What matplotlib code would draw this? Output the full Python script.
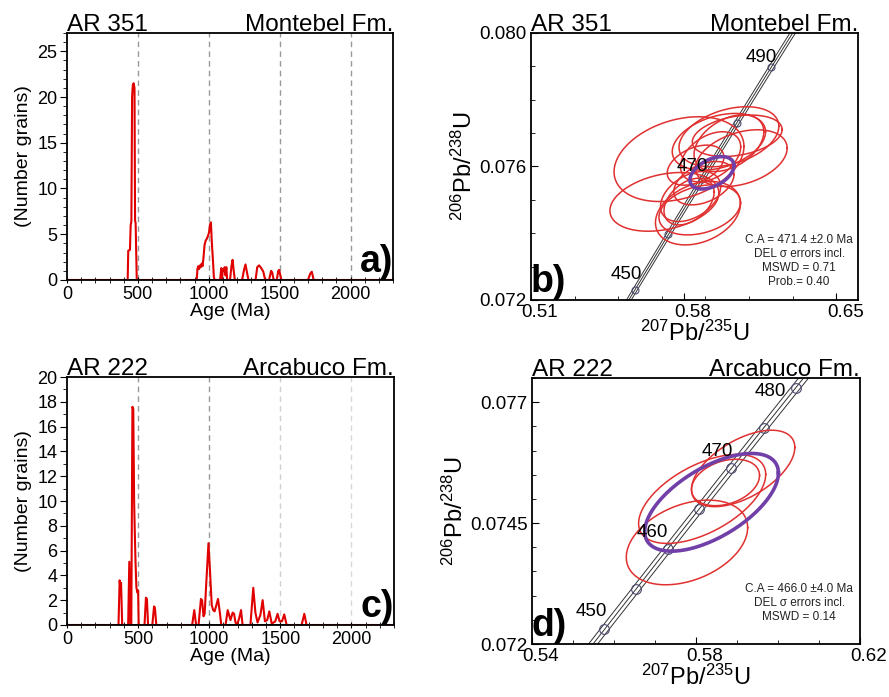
import numpy as np
import matplotlib
matplotlib.use("Agg")
import matplotlib.pyplot as plt
import matplotlib.transforms as mtransforms
from matplotlib.ticker import MultipleLocator, FixedLocator

plt.rcParams["font.family"] = ["Liberation Sans", "DejaVu Sans"]
plt.rcParams["mathtext.default"] = "regular"

# --- probability curves (age Ma, number of grains) ---
a_age = [0, 428, 432, 444, 449, 454, 459, 464, 470, 476, 480, 484, 492,
         915, 920, 926, 932, 938, 944, 950, 956, 962, 970, 978, 986, 994, 1002, 1008, 1015, 1022, 1030, 1036, 1042,
         1080, 1088, 1094, 1100, 1106, 1112, 1118, 1124, 1130,
         1150, 1160, 1168, 1176, 1184, 1235, 1250, 1259, 1270, 1280,
         1330, 1342, 1355, 1370, 1385, 1395, 1405, 1425, 1440, 1448, 1455, 1462,
         1480, 1490, 1497, 1505, 1512, 1700, 1716, 1727, 1740, 2300]
a_num = [0, 0, 3.2, 3.3, 6.0, 6.4, 20.0, 21.3, 21.5, 21.0, 6.5, 6.2, 0,
         0, 1.2, 1.5, 1.2, 1.6, 1.4, 1.8, 1.5, 2.3, 3.8, 4.3, 4.5, 4.8, 5.2, 6.0, 6.3, 4.0, 2.0, 0.3, 0,
         0, 1.3, 0.2, 1.2, 1.0, 1.4, 0.5, 1.4, 0,
         0, 1.5, 2.2, 1.0, 0, 0, 1.2, 1.7, 0.8, 0,
         0, 1.4, 1.6, 1.3, 0.9, 0.2, 0, 0, 1.0, 0.8, 0.2, 0,
         0, 1.0, 1.1, 0.5, 0, 0, 0.7, 0.9, 0, 0]

c_age = [0, 362, 370, 376, 380, 388, 430, 438, 446, 452, 460, 466, 472, 476, 482, 488, 496, 500, 504,
         545, 555, 562, 570, 600, 612, 618, 628,
         880, 895, 908, 925, 942, 950, 960, 968, 980, 995, 1005, 1018, 1028, 1038, 1048, 1062, 1075, 1085,
         1115, 1130, 1150, 1165, 1175, 1185, 1195, 1210, 1224, 1235,
         1290, 1310, 1325, 1340, 1360, 1376, 1392, 1408, 1423, 1440, 1465, 1481, 1495, 1512, 1528, 1545,
         1650, 1669, 1685, 2300]
c_num = [0, 0, 3.6, 3.0, 3.4, 0, 0, 5.1, 0, 0, 17.6, 17.4, 10.0, 7.8, 5.0, 3.0, 2.6, 2.8, 0,
         0, 2.2, 2.1, 0, 0, 1.5, 1.4, 0,
         0, 1.2, 0, 0, 2.1, 2.0, 0.7, 0.9, 3.5, 6.6, 4.5, 1.6, 1.2, 1.1, 1.5, 2.1, 1.0, 0,
         0, 1.2, 0.4, 1.0, 0.9, 0.2, 0, 0.5, 1.2, 0,
         0, 3.0, 1.0, 0.2, 0.8, 2.0, 0.3, 0.4, 1.1, 0.1, 0.3, 0.9, 0.3, 0.3, 0.85, 0,
         0, 0.9, 0, 0]

# --- error ellipses AR 351: 207Pb/235U, 206Pb/238U, half widths, correlation ---
b_x = [0.5779, 0.5712, 0.5866, 0.6008, 0.6065, 0.5962, 0.6046, 0.5874, 0.5832, 0.5893, 0.5825, 0.5924, 0.6008, 0.5855]
b_y = [0.07622, 0.07494, 0.07460, 0.07689, 0.07625, 0.07674, 0.07692, 0.07470, 0.07510, 0.07550, 0.07495, 0.07629, 0.07670, 0.07604]
b_sx = [0.0298, 0.0250, 0.0195, 0.0229, 0.0210, 0.0214, 0.0206, 0.0187, 0.0138, 0.0138, 0.0115, 0.0138, 0.0160, 0.0130]
b_sy = [0.00127, 0.00088, 0.00095, 0.00090, 0.00085, 0.00085, 0.00062, 0.00075, 0.00075, 0.00065, 0.00070, 0.00075, 0.00085, 0.00060]
b_rho = [0.3, 0.3, 0.3, 0.35, 0.35, 0.35, 0.3, 0.3, 0.4, 0.4, 0.4, 0.4, 0.4, 0.4]
b_mean = [0.5930, 0.07581, 0.0101, 0.000485, 0.45]

# --- error ellipses AR 222 ---
d_x = [0.5915, 0.5872, 0.5815, 0.5778]
d_y = [0.07563, 0.07534, 0.07500, 0.07410]
d_sx = [0.0126, 0.0083, 0.0155, 0.0148]
d_sy = [0.00079, 0.00048, 0.00092, 0.000875]
d_rho = [0.55, 0.3, 0.55, 0.35]
d_mean = [0.5838, 0.07493, 0.0163, 0.00101, 0.6]

b_marks = [450, 460, 470, 480, 490]
b_marklabels = [450, 470, 490]
d_marks = [450, 455, 460, 465, 470, 475, 480]
d_marklabels = [450, 460, 470, 480]

L238 = 1.55125e-10
L235 = 9.8485e-10


def concordia(t_ma, k=0.0):
    t = np.asarray(t_ma, dtype=float) * 1e6
    return np.exp(L235 * (1 + k) * t) - 1, np.exp(L238 * t) - 1


def ellipse(ax, x, y, sx, sy, rho, color, lw):
    th = np.linspace(0, 2 * np.pi, 200)
    ex = x + sx * np.cos(th)
    ey = y + sy * (rho * np.cos(th) + np.sqrt(1 - rho ** 2) * np.sin(th))
    ax.plot(ex, ey, color=color, lw=lw, zorder=3)


fig = plt.figure(figsize=(8.89, 6.97), dpi=100)

# ---------- age distribution panels ----------
def age_panel(rect, age, num, ymax, ystep, sample, fm, letter, vcols):
    ax = fig.add_axes(rect)
    for v, c in zip([500, 1000, 1500, 2000], vcols):
        ax.axvline(v, color=c, lw=1, ls=(0, (4, 3)), zorder=1)
    ax.plot(age, num, color="#e00000", lw=1.5, zorder=3)
    ax.axhline(0, color="black", lw=2, zorder=4)
    ax.set_xlim(0, 2300)
    ax.set_ylim(0, ymax)
    ax.set_xticks([0, 500, 1000, 1500, 2000])
    ax.xaxis.set_minor_locator(MultipleLocator(100))
    ax.yaxis.set_major_locator(MultipleLocator(ystep))
    ax.yaxis.set_minor_locator(MultipleLocator(1))
    ax.tick_params(axis="x", which="both", direction="inout", length=4, labelsize=13, pad=2)
    ax.tick_params(axis="y", which="major", direction="out", length=5, labelsize=13, pad=2)
    ax.tick_params(axis="y", which="minor", direction="out", length=3)
    for s in ax.spines.values():
        s.set_linewidth(1.3)
    ax.set_xlabel("Age (Ma)", fontsize=14, labelpad=0)
    ax.set_ylabel("(Number grains)", fontsize=14, labelpad=4)
    ax.text(0, 1.008, sample, transform=ax.transAxes, fontsize=17.5, ha="left", va="baseline")
    ax.text(1, 1.008, fm, transform=ax.transAxes, fontsize=17.5, ha="right", va="baseline")
    ax.text(1.0, 0.0, letter, transform=ax.transAxes, fontsize=27, fontweight="bold",
            ha="right", va="bottom", zorder=5)
    return ax


age_panel([0.0754, 0.5983, 0.3667, 0.3544], a_age, a_num, 27, 5, "AR 351", "Montebel Fm.", "a)",
          ["#999999"] * 4)
age_panel([0.0754, 0.1033, 0.3678, 0.3558], c_age, c_num, 20, 2, "AR 222", "Arcabuco Fm.", "c)",
          ["#999999", "#999999", "#d0d0d0", "#d8d8d8"])


# ---------- concordia panels ----------
def conc_panel(rect, xs, ys, sxs, sys_, rhos, mean, xlim, ylim, xt, yt, xminor, yminor,
               marks, marklabels, laboff, msize, sample, fm, letter, info, trange):
    ax = fig.add_axes(rect)
    t = np.linspace(trange[0], trange[1], 300)
    for k in (-0.0016, 0.0, 0.0016):
        cx, cy = concordia(t, k)
        ax.plot(cx, cy, color="#333333", lw=0.7, zorder=2)
    mx, my = concordia(marks)
    ax.plot(mx, my, ls="none", marker="o", ms=msize, mfc="none", mec="#4a4a70", mew=0.8, zorder=2)
    for x, y, sx, sy, r in zip(xs, ys, sxs, sys_, rhos):
        ellipse(ax, x, y, sx, sy, r, "#e03030", 1.1)
    ellipse(ax, *mean, "#7040a8", 2.6)
    lx, ly = concordia(marklabels)
    for v, x, y, off in zip(marklabels, lx, ly, laboff):
        ax.annotate(str(v), (x, y), xytext=off, textcoords="offset points",
                    ha="right", va="center", fontsize=13.5, zorder=6)
    ax.set_xlim(*xlim)
    ax.set_ylim(*ylim)
    ax.set_xticks(xt)
    ax.set_xticklabels([f"{v:.2f}" for v in xt])
    ax.set_yticks(yt)
    ax.set_yticklabels([f"{v:g}" if len(f"{v:g}") > 5 else f"{v:.3f}" for v in yt])
    ax.xaxis.set_minor_locator(FixedLocator(xminor))
    ax.yaxis.set_minor_locator(FixedLocator(yminor))
    ax.tick_params(which="both", direction="in", labelsize=13.5, pad=3)
    ax.tick_params(which="major", length=5)
    ax.tick_params(which="minor", length=3)
    shift = mtransforms.ScaledTranslation(9 / 100, 0, fig.dpi_scale_trans)
    for lab in ax.get_xticklabels():
        lab.set_transform(lab.get_transform() + shift)
    for s in ax.spines.values():
        s.set_linewidth(1.3)
    ax.set_xlabel(r"$^{207}$Pb/$^{235}$U", fontsize=17, labelpad=0)
    ax.set_ylabel(r"$^{206}$Pb/$^{238}$U", fontsize=17, labelpad=2)
    ax.text(0, 1.008, sample, transform=ax.transAxes, fontsize=17.5, ha="left", va="baseline")
    ax.text(1, 1.008, fm, transform=ax.transAxes, fontsize=17.5, ha="right", va="baseline")
    ax.text(0.0, 0.0, letter, transform=ax.transAxes, fontsize=27, fontweight="bold",
            ha="left", va="bottom", zorder=7)
    ax.text(info[0], info[1], info[2], transform=ax.transAxes, fontsize=8.5, ha="center",
            va="center", multialignment="center", color="#222222", zorder=7)
    return ax


conc_panel([0.5973, 0.5696, 0.3678, 0.3831], b_x, b_y, b_sx, b_sy, b_rho, b_mean,
           (0.51, 0.66), (0.072, 0.080), [0.51, 0.58, 0.65], [0.072, 0.076, 0.080],
           np.arange(0.53, 0.66, 0.02), np.arange(0.072, 0.0805, 0.001),
           b_marks, b_marklabels, [(5, 11), (4, 9), (4, 7)], 5, "AR 351", "Montebel Fm.", "b)",
           (0.82, 0.146, "C.A = 471.4 \u00b12.0 Ma\nDEL \u03c3 errors incl.\nMSWD = 0.71\nProb.= 0.40"),
           (440, 500))

conc_panel([0.5984, 0.0760, 0.3690, 0.3817], d_x, d_y, d_sx, d_sy, d_rho, d_mean,
           (0.54, 0.62), (0.072, 0.0775), [0.54, 0.58, 0.62], [0.072, 0.0745, 0.077],
           np.arange(0.55, 0.62, 0.01), np.arange(0.072, 0.0776, 0.0005),
           d_marks, d_marklabels, [(2, 13), (0, 12), (1, 12), (-7, -3)], 7, "AR 222", "Arcabuco Fm.", "d)",
           (0.815, 0.154, "C.A = 466.0 \u00b14.0 Ma\nDEL \u03c3 errors incl.\nMSWD = 0.14"),
           (444, 486))

fig.savefig("out.png", dpi=100)
